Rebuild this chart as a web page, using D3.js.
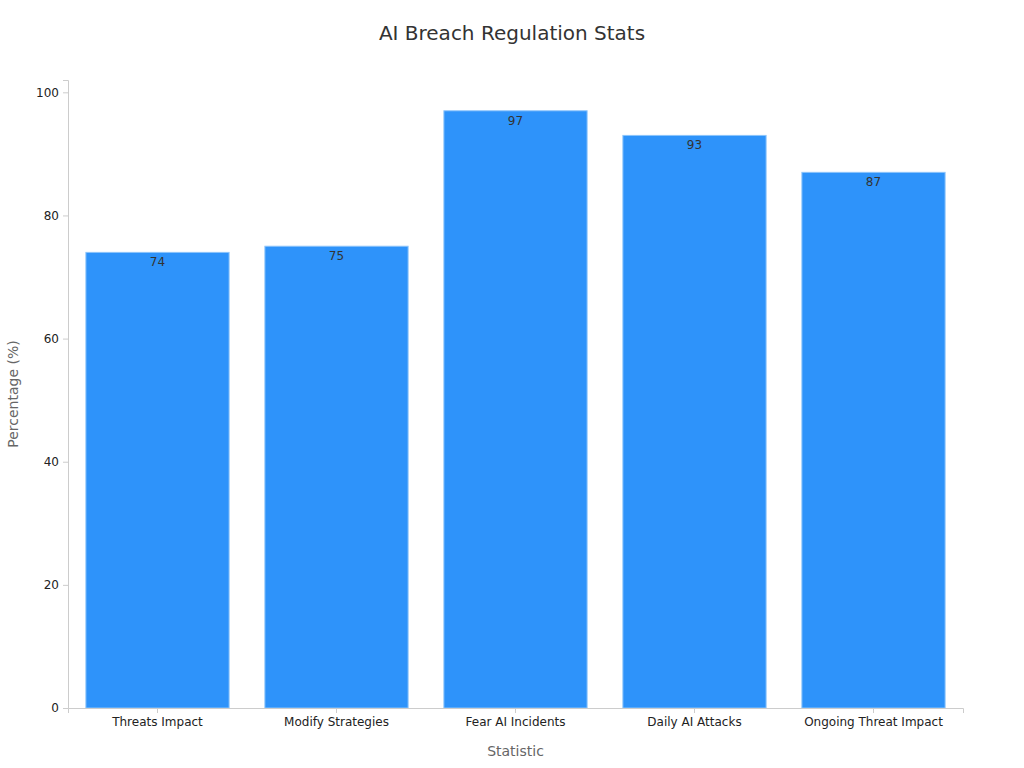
<!DOCTYPE html>
<html lang="en">
<head>
<meta charset="UTF-8">
<title>AI Breach Regulation Stats</title>
<script src="https://cdnjs.cloudflare.com/ajax/libs/d3/7.8.5/d3.min.js"></script>
<style>
  body { margin: 0; background: #fff; }
  text { font-family: "DejaVu Sans", sans-serif; }
</style>
</head>
<body>
<svg id="chart" width="1024" height="768"></svg>
<script>
const categories = ['Threats Impact', 'Modify Strategies', 'Fear AI Incidents', 'Daily AI Attacks', 'Ongoing Threat Impact'];
const values = [74, 75, 97, 93, 87];
const yTicks = [0, 20, 40, 60, 80, 100];

const margin = { top: 80, right: 61, bottom: 60, left: 68 };
const width = 1024, height = 768;

const svg = d3.select('#chart');

const x = d3.scaleBand()
  .domain(categories)
  .range([margin.left, width - margin.right])
  .paddingInner(0.2)
  .paddingOuter(0.1);

const y = d3.scaleLinear()
  .domain([0, 102])
  .range([height - margin.bottom, margin.top]);

// bars
svg.selectAll('rect.bar')
  .data(values)
  .enter()
  .append('rect')
  .attr('class', 'bar')
  .attr('x', (d, i) => x(categories[i]))
  .attr('y', d => y(d))
  .attr('width', x.bandwidth())
  .attr('height', d => y(0) - y(d))
  .attr('fill', '#2E93FA')
  .attr('stroke', '#8cc4fb')
  .attr('stroke-width', 1);

// value labels
svg.selectAll('text.val')
  .data(values)
  .enter()
  .append('text')
  .attr('class', 'val')
  .attr('x', (d, i) => x(categories[i]) + x.bandwidth() / 2)
  .attr('y', d => y(d) + 14)
  .attr('text-anchor', 'middle')
  .attr('font-size', 12)
  .attr('fill', '#333')
  .text(d => d);

// axes
const yAxis = svg.append('g')
  .attr('transform', `translate(${margin.left},0)`)
  .call(d3.axisLeft(y).tickValues(yTicks).tickSize(5).tickPadding(4));

const xAxis = svg.append('g')
  .attr('transform', `translate(0,${height - margin.bottom})`)
  .call(d3.axisBottom(x).tickSize(5).tickPadding(4));

[yAxis, xAxis].forEach(g => {
  g.selectAll('.domain, line').attr('stroke', '#ccc');
  g.selectAll('text').attr('font-size', 12).attr('fill', '#222')
    .style('font-family', '"DejaVu Sans", sans-serif');
});

// titles
svg.append('text')
  .attr('x', width / 2).attr('y', 40)
  .attr('text-anchor', 'middle')
  .attr('font-size', 20).attr('fill', '#333')
  .text('AI Breach Regulation Stats');

svg.append('text')
  .attr('x', (margin.left + width - margin.right) / 2).attr('y', 756)
  .attr('text-anchor', 'middle')
  .attr('font-size', 14).attr('fill', '#666')
  .text('Statistic');

svg.append('text')
  .attr('transform', `translate(18,${(y(0) + y(102)) / 2}) rotate(-90)`)
  .attr('text-anchor', 'middle')
  .attr('font-size', 14).attr('fill', '#666')
  .text('Percentage (%)');
</script>
</body>
</html>
